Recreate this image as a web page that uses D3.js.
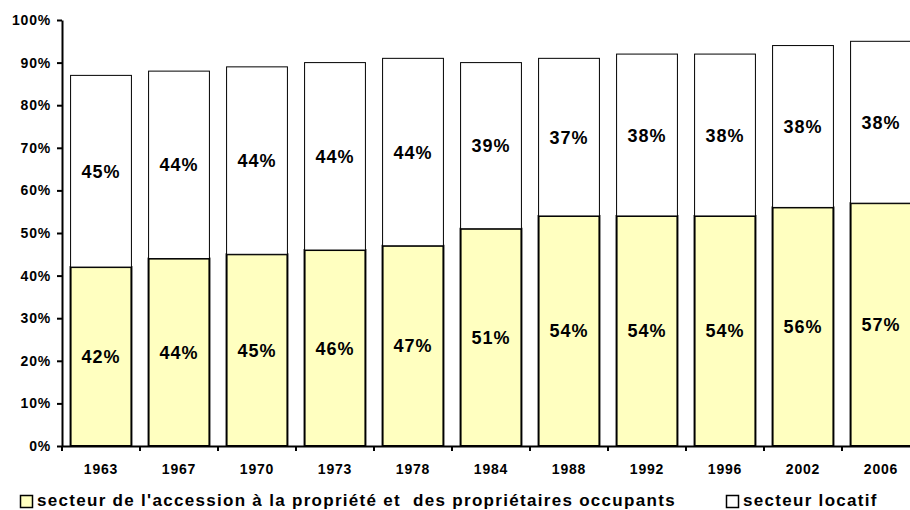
<!DOCTYPE html>
<html>
<head>
<meta charset="utf-8">
<script src="https://cdn.jsdelivr.net/npm/d3@7"></script>
<style>
  html, body { margin: 0; padding: 0; background: #fff; }
  svg { display: block; font-family: "Liberation Sans", Arial, sans-serif; font-weight: bold; }
</style>
</head>
<body>
<svg id="chart" width="910" height="510"></svg>
<script>
// Survey years
const years = ["1963", "1967", "1970", "1973", "1978", "1984", "1988", "1992", "1996", "2002", "2006"];
// Share (%) of the home-ownership sector (owners and buyers)
const owners = [42, 44, 45, 46, 47, 51, 54, 54, 54, 56, 57];
// Share (%) of the rental sector
const renters = [45, 44, 44, 44, 44, 39, 37, 38, 38, 38, 38];
// Y axis tick values (fractions)
const yTicks = [0, 0.1, 0.2, 0.3, 0.4, 0.5, 0.6, 0.7, 0.8, 0.9, 1.0];
// Series names shown in the legend
const seriesNames = ["secteur de l'accession à la propriété et  des propriétaires occupants", "secteur locatif"];

const rows = years.map((y, i) => ({ year: y, owners: owners[i] / 100, renters: renters[i] / 100 }));

const svg = d3.select("#chart");
const plotLeft = 62, plotRight = 920, plotTop = 20, plotBottom = 446;

const x = d3.scaleBand().domain(years).range([plotLeft, plotRight]).paddingInner(0.22).paddingOuter(0.11);
const y = d3.scaleLinear().domain([0, 1]).range([plotBottom, plotTop]);

const stack = d3.stack().keys(["owners", "renters"]);
const layers = stack(rows);

const fills = { owners: "#FFFFC0", renters: "#FFFFFF" };
const strokeW = { owners: 2, renters: 1 };

// Stacked bars: owners at the bottom, rental on top
const gLayers = svg.append("g").selectAll("g").data(layers).join("g");
gLayers.selectAll("rect")
  .data(d => d.map(p => ({ key: d.key, p })))
  .join("rect")
  .attr("x", d => x(d.p.data.year))
  .attr("width", x.bandwidth())
  .attr("y", d => y(d.p[1]))
  .attr("height", d => y(d.p[0]) - y(d.p[1]))
  .attr("fill", d => fills[d.key])
  .attr("stroke", "#000")
  .attr("stroke-width", d => strokeW[d.key]);

// Value labels centred in each segment
gLayers.selectAll("text")
  .data(d => d.map(p => ({ key: d.key, p })))
  .join("text")
  .attr("x", d => x(d.p.data.year) + x.bandwidth() / 2)
  .attr("y", d => (y(d.p[0]) + y(d.p[1])) / 2)
  .attr("dy", "0.36em")
  .attr("text-anchor", "middle")
  .style("font-size", "18px")
  .style("letter-spacing", "1px")
  .attr("fill", "#000")
  .text(d => Math.round((d.p[1] - d.p[0]) * 100) + "%");

// Y axis
const yAxis = svg.append("g")
  .attr("transform", `translate(${plotLeft},0)`)
  .call(d3.axisLeft(y).tickValues(yTicks).tickFormat(d3.format(".0%")).tickSize(5).tickSizeOuter(0).tickPadding(6));
yAxis.select(".domain").attr("stroke", "#000").attr("stroke-width", 2);
yAxis.selectAll(".tick line").attr("stroke", "#000").attr("stroke-width", 2);
yAxis.selectAll(".tick text")
  .style("font-size", "14px").style("font-weight", "bold").style("letter-spacing", "0.8px")
  .style("font-family", "'Liberation Sans', Arial, sans-serif").attr("fill", "#000");

// X axis: labels centred under bars, ticks on category boundaries
const xAxis = svg.append("g")
  .attr("transform", `translate(0,${plotBottom})`)
  .call(d3.axisBottom(x).tickSize(0).tickSizeOuter(0).tickPadding(18));
xAxis.select(".domain").attr("stroke", "#000").attr("stroke-width", 2);
xAxis.selectAll(".tick text")
  .style("font-size", "14px").style("font-weight", "bold").style("letter-spacing", "0.8px")
  .style("font-family", "'Liberation Sans', Arial, sans-serif").attr("fill", "#000");

const step = x.step();
const gap = (step - x.bandwidth()) / 2;
const boundaries = years.map(yr => x(yr) - gap).concat([x(years[years.length - 1]) + x.bandwidth() + gap]);
xAxis.selectAll("line.boundary")
  .data(boundaries)
  .join("line")
  .attr("class", "boundary")
  .attr("x1", d => d).attr("x2", d => d)
  .attr("y1", 0).attr("y2", 5)
  .attr("stroke", "#000").attr("stroke-width", 2);

// Legend
const legend = svg.append("g");
const legendItems = [
  { name: seriesNames[0], fill: fills.owners, x: 20 },
  { name: seriesNames[1], fill: fills.renters, x: 726 }
];
legendItems.forEach(it => {
  legend.append("rect")
    .attr("x", it.x + 0.5).attr("y", 495.5).attr("width", 12).attr("height", 12)
    .attr("fill", it.fill).attr("stroke", "#000").attr("stroke-width", 1.5);
  legend.append("text")
    .attr("x", it.x + 17).attr("y", 506)
    .style("font-size", "17px").style("letter-spacing", "1.3px").style("white-space", "pre")
    .attr("fill", "#000")
    .text(it.name);
});
</script>
</body>
</html>
